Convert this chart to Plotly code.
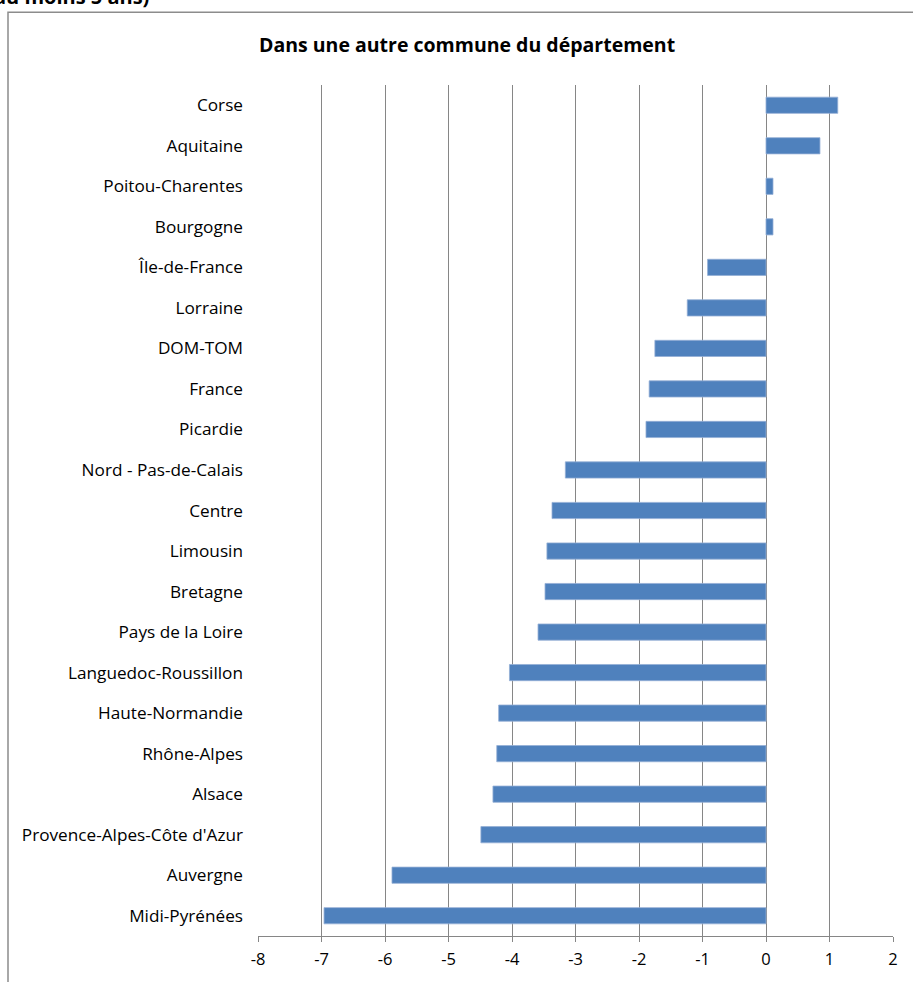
import plotly.graph_objects as go

# Regions, listed from top to bottom as displayed
regions = [
    "Corse", "Aquitaine", "Poitou-Charentes", "Bourgogne", "Île-de-France",
    "Lorraine", "DOM-TOM", "France", "Picardie", "Nord - Pas-de-Calais",
    "Centre", "Limousin", "Bretagne", "Pays de la Loire",
    "Languedoc-Roussillon", "Haute-Normandie", "Rhône-Alpes", "Alsace",
    "Provence-Alpes-Côte d'Azur", "Auvergne", "Midi-Pyrénées",
]
values = [
    1.13, 0.85, 0.11, 0.11, -0.92,
    -1.24, -1.75, -1.84, -1.89, -3.16,
    -3.37, -3.45, -3.48, -3.59,
    -4.04, -4.21, -4.24, -4.30,
    -4.49, -5.89, -6.96,
]
x_ticks = list(range(-8, 3))
x_tick_labels = [str(v) for v in x_ticks]

title_text = "Dans une autre commune du département"
header_text = "au moins 5 ans)"

FONT = "Open Sans"
GRID = "#868686"
BAR = "#4f81bd"

W, H = 913, 982
L, R, T, B = 258, 20, 85, 44
pw, ph = W - L - R, H - T - B


def px_x(p):
    return (p - L) / pw


def px_y(p):
    return 1 - (p - T) / ph


fig = go.Figure()
fig.add_trace(go.Bar(
    x=values, y=regions, orientation="h",
    marker=dict(color=BAR, line=dict(color="#94aed6", width=0.8)),
    hoverinfo="x+y",
))

n = len(regions)
fig.update_layout(
    width=W, height=H,
    margin=dict(l=L, r=R, t=T, b=B),
    paper_bgcolor="white", plot_bgcolor="white",
    showlegend=False,
    bargap=0.6,
    font=dict(family=FONT, size=16, color="#000000"),
    xaxis=dict(
        range=[x_ticks[0], x_ticks[-1]],
        tickvals=x_ticks, ticktext=x_tick_labels,
        showgrid=True, gridcolor=GRID, gridwidth=1.4,
        zeroline=False,
        showline=True, linecolor=GRID, linewidth=1.4,
        ticks="outside", ticklen=5, tickcolor=GRID, tickwidth=1.4,
        tickfont=dict(family=FONT, size=16.5),
        ticklabelstandoff=3,
    ),
    yaxis=dict(
        type="category", categoryorder="array",
        categoryarray=regions[::-1],
        range=[-0.5, n - 0.5],
        showgrid=False, zeroline=False, showline=False,
        ticks="", ticklabelstandoff=14,
        tickfont=dict(family=FONT, size=17.2),
    ),
    # category axis drawn at x = 0 with ticks between categories
    yaxis2=dict(
        overlaying="y", anchor="free",
        position=(0 - x_ticks[0]) / (x_ticks[-1] - x_ticks[0]),
        range=[-0.5, n - 0.5],
        tickvals=[i - 0.5 for i in range(n + 1)],
        showticklabels=False, showgrid=False, zeroline=False,
        showline=True, linecolor=GRID, linewidth=1.4,
        ticks="outside", ticklen=7, tickcolor=GRID, tickwidth=1.4,
    ),
)

# chart title
fig.add_annotation(
    text="<b>" + title_text + "</b>",
    xref="paper", yref="paper", x=px_x(467), y=px_y(44),
    xanchor="center", yanchor="middle", showarrow=False,
    font=dict(family=FONT, size=19.5, color="#000000"),
)

# heading running off the top of the page
fig.add_annotation(
    text="<b>" + header_text + "</b>",
    xref="paper", yref="paper", x=px_x(151), y=px_y(-4),
    xanchor="right", yanchor="middle", showarrow=False,
    font=dict(family=FONT, size=20, color="#000000"),
)

# chart frame
fig.add_shape(
    type="rect", xref="paper", yref="paper",
    x0=px_x(8), y0=px_y(12), x1=px_x(W + 20), y1=px_y(H + 20),
    line=dict(color="#8c8c8c", width=1.5), fillcolor="rgba(0,0,0,0)",
    layer="below",
)

fig.write_html("out.html")
